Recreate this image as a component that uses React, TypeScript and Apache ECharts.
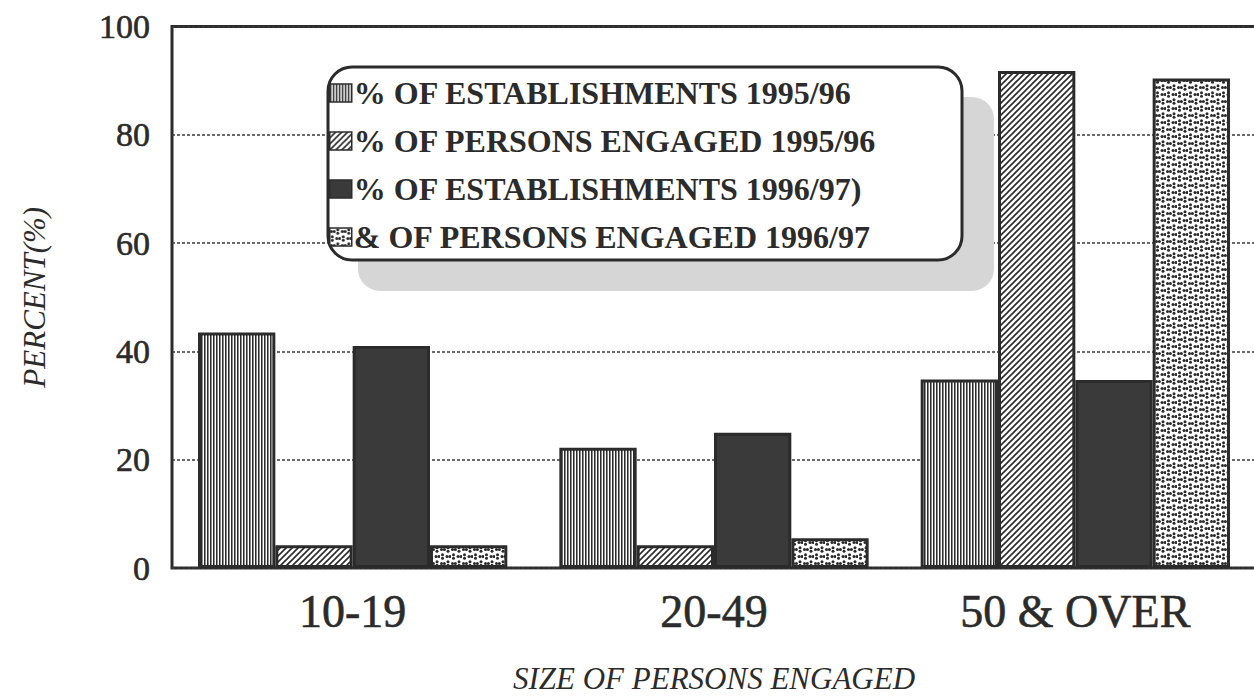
import React, { useEffect, useRef } from "react";
import * as echarts from "echarts";

const categories = ["10-19", "20-49", "50 & OVER"];
const seriesNames = [
  "% OF ESTABLISHMENTS 1995/96",
  "% OF PERSONS ENGAGED 1995/96",
  "% OF ESTABLISHMENTS 1996/97)",
  "& OF PERSONS ENGAGED 1996/97",
];
const estab9596 = [43.5, 22.2, 34.8];
const persons9596 = [4.2, 4.2, 91.8];
const estab9697 = [41.0, 25.0, 34.7];
const persons9697 = [4.2, 5.5, 90.4];
const yMin = 0;
const yMax = 100;
const yStep = 20;

const INK = "#2b2b2b";
const FONT = "Liberation Serif";

function makeCanvas(w: number, h: number, draw: (ctx: CanvasRenderingContext2D) => void) {
  const c = document.createElement("canvas");
  c.width = w;
  c.height = h;
  const ctx = c.getContext("2d")!;
  ctx.fillStyle = "#ffffff";
  ctx.fillRect(0, 0, w, h);
  draw(ctx);
  return c;
}

export default function App() {
  const ref = useRef<HTMLDivElement>(null);
  useEffect(() => {
    if (!ref.current) return;
    const chart = echarts.init(ref.current, undefined, { renderer: "svg" });

    const vert = makeCanvas(3, 4, (ctx) => {
      ctx.fillStyle = INK;
      ctx.fillRect(0, 0, 1, 4);
      ctx.fillStyle = "#8a8a8a";
      ctx.fillRect(1, 0, 1, 4);
    });
    const diag = makeCanvas(6, 6, (ctx) => {
      ctx.strokeStyle = INK;
      ctx.lineWidth = 1.6;
      ctx.beginPath();
      ctx.moveTo(-1, 7);
      ctx.lineTo(7, -1);
      ctx.moveTo(-1, 1);
      ctx.lineTo(1, -1);
      ctx.moveTo(5, 7);
      ctx.lineTo(7, 5);
      ctx.stroke();
    });
    const dots = makeCanvas(11, 14, (ctx) => {
      ctx.fillStyle = INK;
      const d = (x: number, y: number) => {
        ctx.beginPath();
        ctx.arc(x, y, 1.5, 0, Math.PI * 2);
        ctx.fill();
      };
      d(1.5, 3.5); d(4.4, 3.5); d(8, 1.8); d(8, 5.2);
      d(7, 10.5); d(9.9, 10.5); d(2.5, 8.8); d(2.5, 12.2);
    });

    const pat = (c: HTMLCanvasElement) => ({
      image: c,
      repeat: "repeat",
      imageWidth: c.width,
      imageHeight: c.height,
    });

    const fills: any[] = [pat(vert), pat(diag), "#3a3a3a", pat(dots)];
    const values = [estab9596, persons9596, estab9697, persons9697];

    const ink = { textBorderColor: INK, textBorderWidth: 0.6 };

    chart.setOption({
      animation: false,
      backgroundColor: "#ffffff",
      grid: {
        left: 172,
        right: -2,
        top: 26.5,
        bottom: 131,
        outerBoundsMode: "none",
        containLabel: false,
        show: true,
        borderColor: INK,
        borderWidth: 3,
        backgroundColor: "transparent",
      },
      legend: {
        orient: "vertical",
        left: 329,
        top: 76,
        padding: 0,
        itemWidth: 22,
        itemHeight: 18,
        itemGap: 14,
        icon: "rect",
        selectedMode: false,
        z: 10,
        itemStyle: { borderWidth: 1.5, borderColor: INK },
        textStyle: {
          fontFamily: FONT,
          fontWeight: "bold",
          fontSize: 32,
          lineHeight: 34,
          color: INK,
          padding: [0, 0, 0, -3],
        },
        data: seriesNames,
      },
      graphic: {
        elements: [
          {
            type: "rect",
            z: 5,
            shape: { x: 358, y: 97, width: 636, height: 194, r: 22 },
            style: { fill: "#d6d6d6" },
          },
          {
            type: "rect",
            z: 6,
            shape: { x: 328, y: 67, width: 634, height: 193, r: 24 },
            style: { fill: "#ffffff", stroke: INK, lineWidth: 3 },
          },
        ],
      },
      xAxis: {
        type: "category",
        data: categories,
        axisLine: { show: false },
        axisTick: { show: false },
        axisLabel: {
          margin: 20,
          fontFamily: FONT,
          fontSize: 46,
          color: INK,
          ...ink,
        },
        name: "SIZE OF PERSONS ENGAGED",
        nameLocation: "middle",
        nameGap: 95,
        nameTextStyle: {
          fontFamily: FONT,
          fontStyle: "italic",
          fontSize: 31,
          color: INK,
        },
      },
      yAxis: {
        type: "value",
        min: yMin,
        max: yMax,
        interval: yStep,
        axisLine: { show: false },
        axisTick: { show: false },
        axisLabel: {
          margin: 22,
          fontFamily: FONT,
          fontSize: 34,
          color: INK,
          ...ink,
        },
        splitLine: {
          show: true,
          lineStyle: { color: "#3a3a3a", width: 1.5, type: [3, 2] },
        },
        name: "PERCENT(%)",
        nameLocation: "middle",
        nameGap: 122,
        nameRotate: 90,
        nameTextStyle: {
          fontFamily: FONT,
          fontStyle: "italic",
          fontSize: 31,
          color: INK,
        },
      },
      series: seriesNames.map((name, i) => ({
        name,
        type: "bar",
        data: values[i],
        barGap: "0%",
        barCategoryGap: "14.4%",
        itemStyle: { color: fills[i], borderColor: INK, borderWidth: 3 },
      })),
    });

    return () => chart.dispose();
  }, []);

  return (
    <div
      ref={ref}
      style={{ position: "fixed", left: 0, top: 0, width: 1254, height: 699 }}
    />
  );
}
